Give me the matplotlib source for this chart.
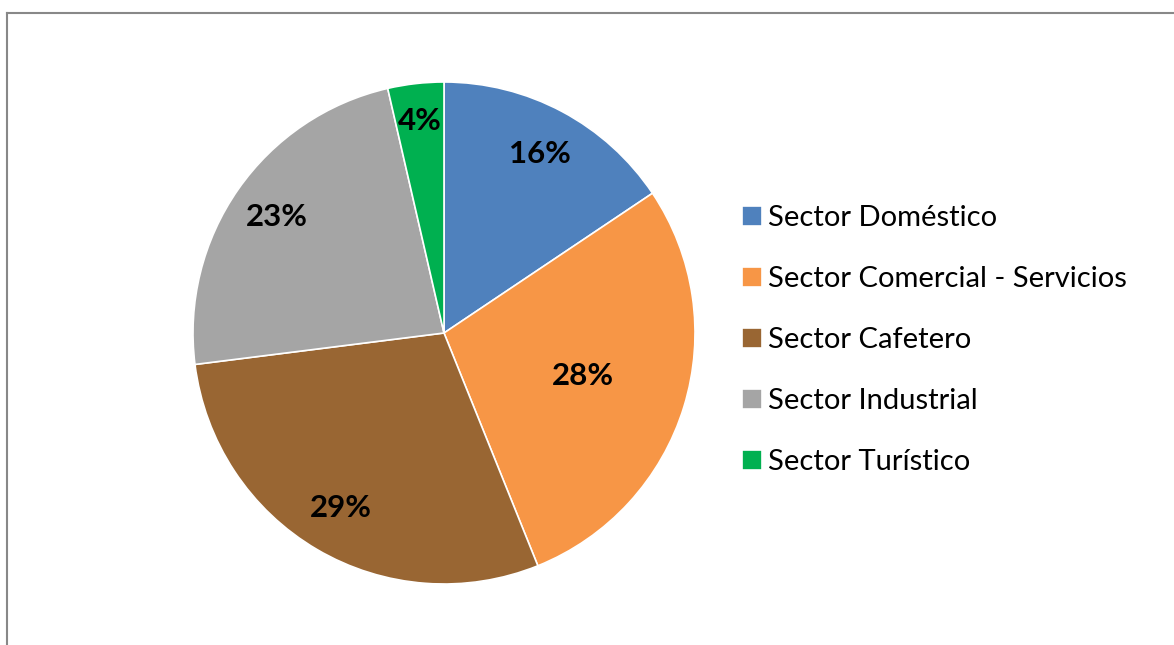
import numpy as np
import matplotlib.pyplot as plt
from matplotlib.lines import Line2D

sectors = ["Sector Doméstico", "Sector Comercial - Servicios", "Sector Cafetero",
           "Sector Industrial", "Sector Turístico"]
shares = [15.6, 28.3, 29.1, 23.4, 3.6]
colors = ["#4F81BD", "#F79646", "#996633", "#A5A5A5", "#00B050"]
# radial position of each percentage label, as fraction of the radius
label_r = [0.81, 0.58, 0.81, 0.81, 0.85]

plt.rcParams["font.family"] = ["Lato", "DejaVu Sans"]

W, H = 1174, 645
fig = plt.figure(figsize=(W / 100, H / 100), dpi=100)

# frame of the chart area (only top and left edges visible)
fig.add_artist(Line2D([7 / W, 7 / W], [0, 1 - 13 / H], transform=fig.transFigure,
                      color="#888888", lw=1.5))
fig.add_artist(Line2D([7 / W, 1], [1 - 13 / H, 1 - 13 / H], transform=fig.transFigure,
                      color="#888888", lw=1.5))

cx, cy, r = 444, 333, 251
ax = fig.add_axes([(cx - r) / W, (H - cy - r) / H, 2 * r / W, 2 * r / H])
wedges, _ = ax.pie(shares, colors=colors, startangle=90, counterclock=False,
                   wedgeprops=dict(edgecolor="white", linewidth=1.2))
ax.set_xlim(-1, 1)
ax.set_ylim(-1, 1)
ax.axis("off")

for w, v, lr in zip(wedges, shares, label_r):
    ang = np.deg2rad((w.theta1 + w.theta2) / 2)
    ax.text(lr * np.cos(ang), lr * np.sin(ang), f"{v:.0f}%", ha="center", va="center",
            fontsize=22.5, fontweight="bold", color="black")

fig.legend(wedges, sectors, loc="upper left", bbox_to_anchor=(742 / W, 1 - 205 / H),
           frameon=False, fontsize=21, handlelength=0.7, handleheight=0.7,
           handletextpad=0.2, labelspacing=1.2, borderpad=0, borderaxespad=0)

fig.savefig("out.png", dpi=100)
